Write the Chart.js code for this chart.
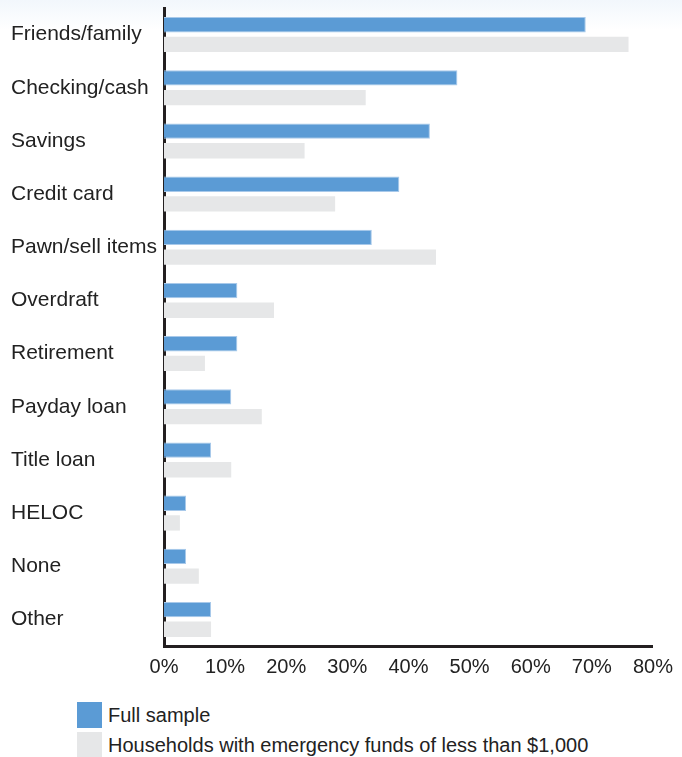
<!DOCTYPE html>
<html>
<head>
<meta charset="utf-8">
<script src="https://cdn.jsdelivr.net/npm/chart.js@4"></script>
<style>
  html, body { margin: 0; padding: 0; }
  body {
    width: 682px; height: 757px; overflow: hidden;
    background: linear-gradient(to bottom, #f2f7fc 0px, #ffffff 30px);
    font-family: "Liberation Sans", Arial, sans-serif;
  }
  #wrap { position: relative; width: 682px; height: 692px; }
  .legend { position: absolute; left: 77px; font-size: 20px; color: #222; }
  .legend div { display: flex; align-items: center; height: 30px; }
  .legend span.box { display: inline-block; width: 25px; height: 26px; margin-right: 6px; }
</style>
</head>
<body>
<div id="wrap"><canvas id="chart"></canvas></div>
<div class="legend" style="top:700px">
  <div><span class="box" style="background:#5b9bd5"></span>Full sample</div>
  <div><span class="box" style="background:#e6e7e8"></span>Households with emergency funds of less than $1,000</div>
</div>
<script>
//categories top to bottom
const categories = ["Friends/family", "Checking/cash", "Savings", "Credit card", "Pawn/sell items",
  "Overdraft", "Retirement", "Payday loan", "Title loan", "HELOC", "None", "Other"];

//percent values
const fullSample = [69, 48, 43.5, 38.5, 34, 12, 12, 11, 7.7, 3.6, 3.6, 7.7];
const lowFunds   = [76, 33, 23, 28, 44.5, 18, 6.7, 16, 11, 2.6, 5.7, 7.7];

const tickValues = [0, 10, 20, 30, 40, 50, 60, 70, 80];

new Chart(document.getElementById("chart").getContext("2d"), {
  type: "bar",
  data: {
    labels: categories,
    datasets: [
      {
        label: "Full sample",
        data: fullSample,
        backgroundColor: "#5b9bd5",
        borderColor: "#a8c9ea",
        borderWidth: 1,
        categoryPercentage: 0.74,
        barPercentage: 0.78,
      },
      {
        label: "Households with emergency funds of less than $1,000",
        data: lowFunds,
        backgroundColor: "#e6e7e8",
        categoryPercentage: 0.74,
        barPercentage: 0.78,
      }
    ]
  },
  options: {
    indexAxis: "y",
    responsive: true,
    maintainAspectRatio: false,
    animation: false,
    layout: { padding: { left: 11, top: 8, right: 10, bottom: 4 } },
    plugins: { legend: { display: false }, tooltip: { enabled: false } },
    scales: {
      x: {
        min: 0, max: 80,
        afterBuildTicks: axis => { axis.ticks = tickValues.map(v => ({ value: v })); },
        grid: { display: false, drawTicks: false },
        border: { display: true, color: "#231f20", width: 3 },
        ticks: {
          color: "#222",
          padding: 9,
          font: { family: "Liberation Sans", size: 20 },
          callback: v => v + "%"
        }
      },
      y: {
        grid: { display: false, drawTicks: false },
        border: { display: true, color: "#231f20", width: 3 },
        //force the label column width so the axis sits where it should,
        //and drop the label overhang padding at top/bottom
        afterFit: axis => {
          axis.width = 153;
          axis.paddingTop = 0;
          axis.paddingBottom = 0;
        },
        ticks: {
          color: "#222",
          crossAlign: "far",
          padding: 4,
          font: { family: "Liberation Sans", size: 21 }
        }
      }
    }
  }
});
</script>
</body>
</html>
